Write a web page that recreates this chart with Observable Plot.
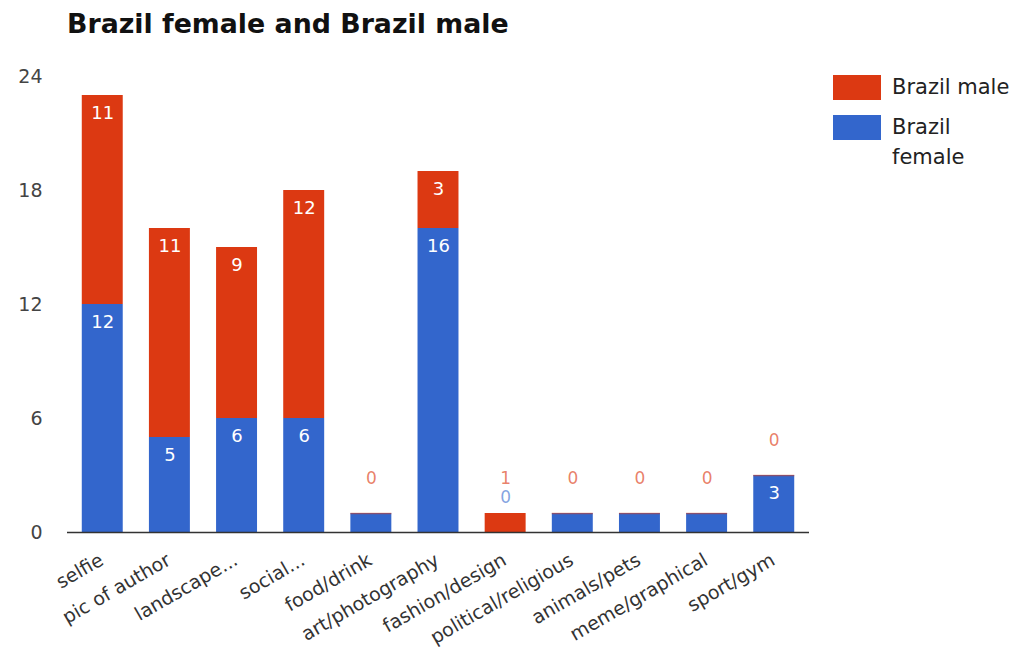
<!DOCTYPE html>
<html><head><meta charset="utf-8">
<script src="https://cdn.jsdelivr.net/npm/d3@7"></script>
<script src="https://cdn.jsdelivr.net/npm/@observablehq/plot@0.6"></script>
<style>
body{margin:0;background:#fff;font-family:"DejaVu Sans",sans-serif;}
#wrap{position:relative;width:1021px;height:658px;overflow:hidden;}
#title{height:56px;box-sizing:border-box;padding-left:67px;padding-top:8px;font-weight:bold;font-size:26.8px;color:#111;white-space:nowrap;}
#legend{position:absolute;left:833px;top:0;font-size:21px;color:#222;}
.item{position:absolute;left:0;width:190px;}
.sw{position:absolute;left:0;width:48px;height:25px;}
.lt{position:absolute;left:59px;width:126px;line-height:30px;}
#chart svg{display:block;}
</style></head>
<body>
<div id="wrap">
  <div id="title">Brazil female and Brazil male</div>
  <div id="chart"></div>
  <div id="legend"></div>
</div>
<script>
const categories = ["selfie","pic of author","landscape...","social...","food/drink","art/photography","fashion/design","political/religious","animals/pets","meme/graphical","sport/gym"];
const femaleValues = [12,5,6,6,1,16,0,1,1,1,3];
const maleValues = [11,11,9,12,0,3,1,0,0,0,0];
const seriesNames = ["Brazil male","Brazil female"];
const seriesColors = ["#dc3912","#3366cc"];
const yTicks = [0,6,12,18,24];

const rows = categories.flatMap((c,i)=>[
  {cat:c, series:"Brazil female", value:femaleValues[i]},
  {cat:c, series:"Brazil male", value:maleValues[i]}
]);
const totals = categories.map((c,i)=>({cat:c, total:femaleValues[i]+maleValues[i], male:maleValues[i], female:femaleValues[i]}));
const maleOutside = totals.filter(d=>d.male<=1);
const femaleOutside = totals.filter(d=>d.female===0);
const maleZero = totals.filter(d=>d.male===0);

const chart = Plot.plot({
  width:1021, height:602,
  marginTop:20, marginBottom:126, marginLeft:67, marginRight:212,
  style:{fontFamily:"DejaVu Sans", background:"white", color:"#444"},
  x:{domain:categories, paddingInner:0.39, paddingOuter:0.22, round:false, label:null},
  y:{domain:[0,24], label:null},
  color:{domain:seriesNames, range:seriesColors},
  marks:[
    Plot.gridY(yTicks,{stroke:"#d4d4d4", strokeOpacity:1, x1:67, x2:809}),
    Plot.barY(rows,{x:"cat", y:"value", fill:"series", order:null}),
    Plot.tickY(maleZero,{x:"cat", y:"total", stroke:seriesColors[0], strokeOpacity:0.5, strokeWidth:1.5}),
    Plot.ruleY([0],{stroke:"#333", strokeWidth:1.5}),
    Plot.text(rows, Plot.stackY2({x:"cat", y:"value", z:"series", order:null,
      text:d=>d.value>=2?String(d.value):null, fill:"white", fontSize:18, dy:18})),
    Plot.text(maleOutside,{x:"cat", y:"total", text:d=>String(d.male), fill:seriesColors[0], fillOpacity:0.65, fontSize:17, dy:-35}),
    Plot.text(femaleOutside,{x:"cat", y:"total", text:d=>String(d.female), fill:seriesColors[1], fillOpacity:0.6, fontSize:17, dy:-16}),
    Plot.axisY({ticks:yTicks, tickSize:0, tickPadding:25, fontSize:19, label:null}),
    Plot.axisX({tickSize:0, tickRotate:-30, tickPadding:8, dy:18, dx:-1, fontSize:19, label:null, fill:"#333"})
  ]
});
document.getElementById("chart").appendChild(chart);

const legend = document.getElementById("legend");
const legendTops = [75, 115];
seriesNames.forEach((name,i)=>{
  const item = document.createElement("div");
  item.className = "item";
  item.style.top = legendTops[i] + "px";
  const sw = document.createElement("div");
  sw.className = "sw"; sw.style.background = seriesColors[i];
  const lt = document.createElement("div");
  lt.className = "lt"; lt.style.top = "-3px"; lt.textContent = name;
  item.appendChild(sw); item.appendChild(lt);
  legend.appendChild(item);
});
</script>
</body></html>
